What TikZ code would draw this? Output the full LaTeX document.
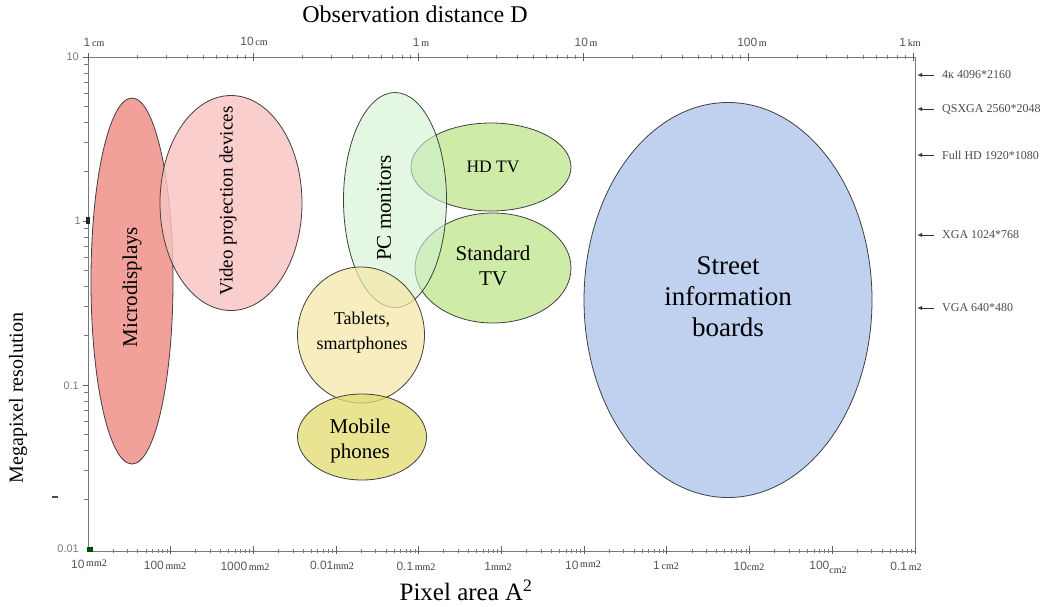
\documentclass[tikz,border=0pt]{standalone}
\usepackage{fontspec}
\setmainfont{Liberation Serif}
\newfontfamily\numfont{Liberation Sans}
\usetikzlibrary{shapes.geometric,arrows.meta}

\definecolor{axisgray}{RGB}{120,120,120}
\definecolor{ticktext}{RGB}{90,90,90}
\definecolor{microfill}{RGB}{238,140,132}
\definecolor{videofill}{RGB}{250,196,193}
\definecolor{pcfill}{RGB}{210,242,208}
\definecolor{hdfill}{RGB}{196,232,150}
\definecolor{sdfill}{RGB}{196,232,150}
\definecolor{tabfill}{RGB}{245,230,165}
\definecolor{mobfill}{RGB}{225,220,110}
\definecolor{streetfill}{RGB}{178,200,236}

\newcommand{\axnum}[1]{{\numfont\fontsize{12}{14}\selectfont\color{ticktext}#1}}
\newcommand{\axunit}[1]{{\fontsize{10}{12}\selectfont #1}}

\begin{document}
\begin{tikzpicture}[x=1pt,y=-1pt,
  blob/.style={ellipse, draw=black!75, line width=0.8pt, inner sep=0pt,
    outer sep=0pt, fill opacity=0.82},
  axisline/.style={draw=axisgray, line width=0.9pt},
  tickmark/.style={draw=axisgray, line width=0.6pt},
  majortick/.style={draw=axisgray!80!black, line width=1pt},
  numlbl/.style={font=\numfont\fontsize{11}{13}\selectfont, text=ticktext!80, inner sep=0pt},
  axlbl/.style={inner sep=0pt, text=black!80},
  reslbl/.style={font=\fontsize{12}{14}\selectfont, text=black!70, anchor=west, inner sep=0pt},
  reslead/.style={draw=black!80, line width=0.9pt, -{Latex[length=5pt,width=4pt]}},
  cat/.style={font=\fontsize{21}{25}\selectfont, align=center, inner sep=0pt},
  title/.style={inner sep=0pt}]

\useasboundingbox (0,0) rectangle (1048,606);
\fill[white] (0,0) rectangle (1048,606);

% plot frame corners
\coordinate (tl) at (88,57);
\coordinate (tr) at (915,57);
\coordinate (bl) at (88,551);
\coordinate (br) at (915,551);
\draw[axisline] (tl) -- (tr) -- (br) -- (bl) -- cycle;

% top axis: observation distance, one decade per 165pt
\foreach \d in {0,...,4}{
  \foreach \k in {2,...,9}{
    \draw[tickmark] ({88+165*\d+165*log10(\k)},55) -- ++(0,4);
  }
}
\foreach \d in {0,...,5}{
  \draw[majortick] ({88+165*\d},53) -- ++(0,8);
}

% bottom axis: pixel area, ten intervals
\foreach \d in {0,...,9}{
  \foreach \k in {2,...,9}{
    \draw[tickmark] ({88+82.7*\d+82.7*log10(\k)},549) -- ++(0,4);
  }
  \draw[majortick] ({88+82.7*(\d+1)},546) -- ++(0,8);
}

% left axis: megapixels, one decade per 164pt
\foreach \d in {0,1,2}{
  \foreach \k in {2,...,9}{
    \draw[tickmark] (84,{57+164*(\d+1)-164*log10(\k)}) -- ++(5,0);
  }
  \draw[majortick] (83,{57+164*\d}) -- ++(6,0);
}
\fill[black!85] (86,217) rectangle (90,224);
\fill[black!70!green] (87,547) rectangle (93,552);
\draw[black!70, line width=1.2pt] (52,497) -- (58,497);

% left axis numbers
\node[numlbl, anchor=east] (v10) at (79,57) {10};
\node[numlbl, anchor=east] (v1) at (81,221) {1};
\node[numlbl, anchor=east] (v01) at (79,386) {0.1};
\node[numlbl, anchor=east] (v001) at (79,549) {0.01};

% top axis labels
\node[axlbl] (d1) at (94,42) {\axnum{1}\,\axunit{cm}};
\node[axlbl] (d2) at (254,41) {\axnum{10}\,\axunit{cm}};
\node[axlbl] (d3) at (421,42) {\axnum{1}\,\axunit{m}};
\node[axlbl] (d4) at (586,42) {\axnum{10}\,\axunit{m}};
\node[axlbl] (d5) at (752,42) {\axnum{100}\,\axunit{m}};
\node[axlbl] (d6) at (910,42) {\axnum{1}\,\axunit{km}};

% bottom axis labels
\node[axlbl] (a1) at (89,564) {\axnum{10}\,\raisebox{2pt}{\axunit{mm2}}};
\node[axlbl] (a2) at (165,565) {\axnum{100}\,\axunit{mm2}};
\node[axlbl] (a3) at (245,566) {\axnum{1000}\,\axunit{mm2}};
\node[axlbl] (a4) at (332,565) {\axnum{0.01}\axunit{mm2}};
\node[axlbl] (a5) at (416,566) {\axnum{0.1}\,\axunit{mm2}};
\node[axlbl] (a6) at (498,566) {\axnum{1}\axunit{mm2}};
\node[axlbl] (a7) at (583,565) {\axnum{10}\,\raisebox{2pt}{\axunit{mm2}}};
\node[axlbl] (a8) at (666,565) {\axnum{1}\,\axunit{cm2}};
\node[axlbl] (a9) at (749,566) {\axnum{10}\axunit{cm2}};
\node[axlbl] (a10) at (828,567) {\axnum{100}\raisebox{-4pt}{\axunit{cm2}}};
\node[axlbl] (a11) at (906,566) {\axnum{0.1}\,\axunit{m2}};

% display resolutions on the right axis
\coordinate (r1) at (917,75);
\coordinate (r2) at (917,109);
\coordinate (r3) at (917,155);
\coordinate (r4) at (917,235);
\coordinate (r5) at (917,308);
\foreach \r/\t in {r1/{4к 4096*2160}, r2/{QSXGA 2560*2048}, r3/{Full HD 1920*1080},
                   r4/{XGA 1024*768}, r5/{VGA 640*480}}{
  \node[reslbl] (\r t) at ([xshift=25pt]\r) {\t};
  \draw[reslead] ([xshift=17pt]\r) -- (\r);
}

% axis titles
\node[title, font=\fontsize{24}{27}\selectfont] (xtop) at (415,14) {Observation distance D};
\node[title, font=\fontsize{25}{28}\selectfont] (xbot) at (466,590) {Pixel area A\textsuperscript{2}};
\node[title, rotate=90, font=\fontsize{20}{23}\selectfont] (ylab) at (18,398) {Megapixel resolution};

% display categories
\node[blob, fill=microfill, minimum width=82pt, minimum height=366pt] (micro) at (132,281) {};
\node[blob, fill=videofill, minimum width=142pt, minimum height=215pt] (video) at (231,203) {};
\node[blob, fill=hdfill, minimum width=160pt, minimum height=88pt] (hdtv) at (491,167) {};
\node[blob, fill=sdfill, minimum width=156pt, minimum height=110pt] (sdtv) at (493,268) {};
\node[blob, fill=pcfill, fill opacity=0.6, minimum width=103pt, minimum height=215pt] (pc) at (395,200) {};
\node[blob, fill=tabfill, fill opacity=0.7, minimum width=127pt, minimum height=136pt] (tab) at (361,335) {};
\node[blob, fill=mobfill, fill opacity=0.75, minimum width=129pt, minimum height=86pt] (mob) at (362,437) {};
\node[blob, fill=streetfill, minimum width=288pt, minimum height=395pt] (street) at (728,300) {};

\node[cat, rotate=90] (microt) at ([yshift=-6pt]micro.center) {Microdisplays};
\node[cat, rotate=90, font=\fontsize{19}{22}\selectfont] (videot) at ([xshift=-3pt,yshift=2pt]video.center) {Video projection devices};
\node[cat, rotate=90] (pct) at ([xshift=-11pt,yshift=-8pt]pc.center) {PC monitors};
\node[cat, font=\fontsize{17.5}{20}\selectfont] (hdt) at ([xshift=2pt]hdtv.center) {HD TV};
\node[cat] (sdt) at ([yshift=2pt]sdtv.center) {Standard\\TV};
\node[cat, font=\fontsize{18}{25}\selectfont] (tabt) at ([xshift=1pt,yshift=2pt]tab.center) {Tablets,\\smartphones};
\node[cat] (mobt) at ([xshift=-2pt,yshift=-4pt]mob.center) {Mobile\\phones};
\node[cat, font=\fontsize{27}{31}\selectfont] (streett) at ([xshift=0pt,yshift=3pt]street.center) {Street\\information\\boards};

\end{tikzpicture}
\end{document}
